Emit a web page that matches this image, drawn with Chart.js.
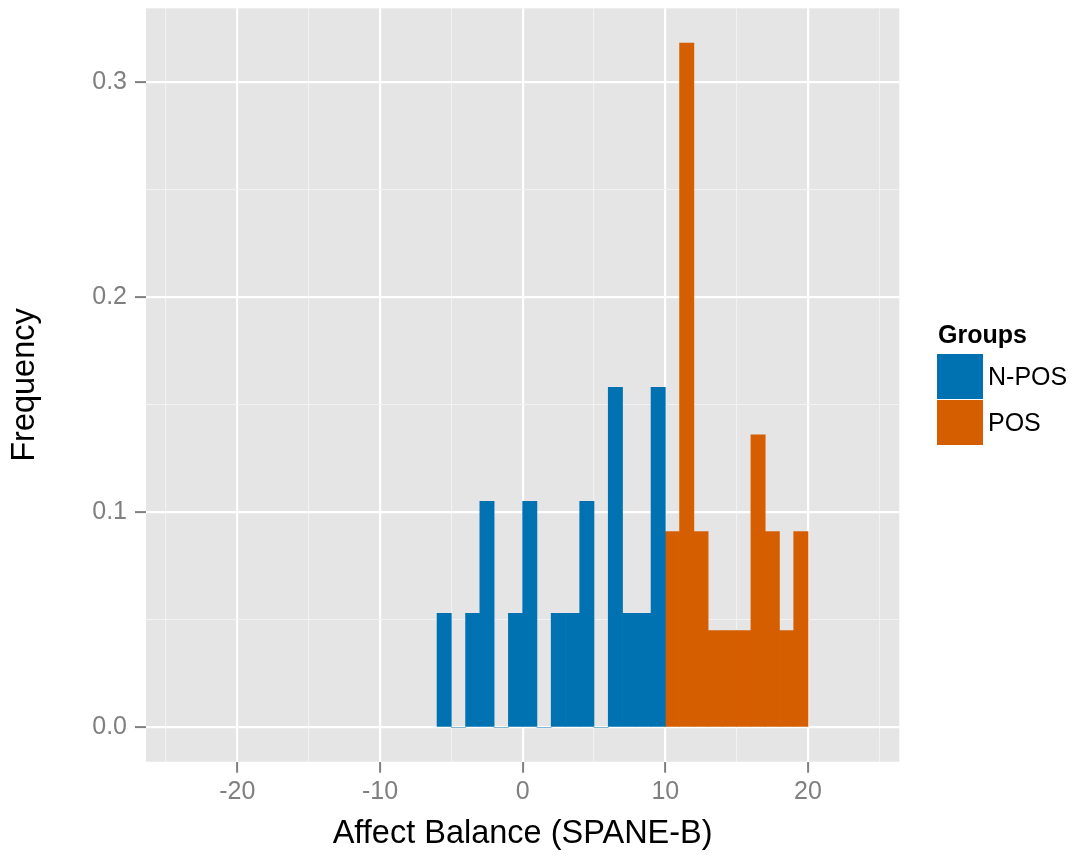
<!DOCTYPE html>
<html>
<head>
<meta charset="utf-8">
<title>Affect Balance histogram</title>
<script src="https://cdn.jsdelivr.net/npm/chart.js@4.4.1/dist/chart.umd.min.js"></script>
<style>
  html, body { margin: 0; padding: 0; background: #ffffff; }
  #c { display: block; }
</style>
</head>
<body>
<canvas id="c" width="1077" height="859"></canvas>
<script>
// bin centres (bin width 1) and relative frequencies
var nposMid = [-5.5, -4.5, -3.5, -2.5, -1.5, -0.5, 0.5, 1.5, 2.5, 3.5, 4.5, 5.5, 6.5, 7.5, 8.5, 9.5];
var nposFreq = [0.053, 0, 0.053, 0.105, 0, 0.053, 0.105, 0, 0.053, 0.053, 0.105, 0, 0.158, 0.053, 0.053, 0.158];
var posMid = [10.5, 11.5, 12.5, 13.5, 14.5, 15.5, 16.5, 17.5, 18.5, 19.5];
var posFreq = [0.091, 0.318, 0.091, 0.045, 0.045, 0.045, 0.136, 0.091, 0.045, 0.091];

var xTicks = [-25, -20, -15, -10, -5, 0, 5, 10, 15, 20, 25];
var yTicks = [0, 0.05, 0.1, 0.15, 0.2, 0.25, 0.3];
var groupNames = ['N-POS', 'POS'];
var groupColors = ['#0072B2', '#D55E00'];

function toPoints(xs, ys) {
  var out = [];
  for (var i in xs) out.push({ x: xs[i], y: ys[i] });
  return out;
}

function isMajorX(v) { return Math.round(v) % 10 === 0; }
function isMajorY(v) { return Math.round(v * 100) % 10 === 0; }

Chart.defaults.font.family = '"Liberation Sans", Arial, sans-serif';

var panelBg = {
  id: 'panelBg',
  beforeDraw: function(chart) {
    var a = chart.chartArea, ctx = chart.ctx;
    ctx.save();
    ctx.fillStyle = '#E5E5E5';
    ctx.fillRect(a.left, a.top, a.right - a.left, a.bottom - a.top);
    ctx.restore();
  }
};

// ggplot-style legend on the right
var sideLegend = {
  id: 'sideLegend',
  afterDraw: function(chart) {
    var ctx = chart.ctx;
    ctx.save();
    ctx.textBaseline = 'alphabetic';
    ctx.textAlign = 'left';
    ctx.fillStyle = '#000000';
    ctx.font = 'bold 25px "Liberation Sans", Arial, sans-serif';
    ctx.fillText('Groups', 938, 343);
    ctx.font = '25px "Liberation Sans", Arial, sans-serif';
    var top = 354;
    for (var i = 0; i < groupNames.length; i++) {
      ctx.fillStyle = groupColors[i];
      ctx.fillRect(937, top + i * 46, 46, 45);
      ctx.fillStyle = '#000000';
      ctx.fillText(groupNames[i], 988, top + i * 46 + 31);
    }
    ctx.restore();
  }
};

var chartdata = {
  datasets: [
    {
      label: groupNames[0],
      data: toPoints(nposMid, nposFreq),
      backgroundColor: groupColors[0],
      borderWidth: 0,
      grouped: false,
      barPercentage: 1,
      categoryPercentage: 1
    },
    {
      label: groupNames[1],
      data: toPoints(posMid, posFreq),
      backgroundColor: groupColors[1],
      borderWidth: 0,
      grouped: false,
      barPercentage: 1,
      categoryPercentage: 1
    }
  ]
};

var ctx = document.getElementById('c');

var histo = new Chart(ctx, {
  type: 'bar',
  data: chartdata,
  plugins: [panelBg, sideLegend],
  options: {
    responsive: false,
    animation: false,
    devicePixelRatio: 1,
    layout: { padding: { top: 8.3, right: 177.7, bottom: 0, left: 0 } },
    plugins: {
      legend: { display: false },
      tooltip: { enabled: false }
    },
    scales: {
      x: {
        type: 'linear',
        min: -26.4,
        max: 26.4,
        offset: false,
        border: { display: false },
        grid: {
          offset: false,
          color: function(c) { return c.tick && isMajorX(c.tick.value) ? '#FFFFFF' : '#F2F2F2'; },
          lineWidth: function(c) { return c.tick && isMajorX(c.tick.value) ? 2.2 : 1.1; },
          tickColor: function(c) { return c.tick && isMajorX(c.tick.value) ? '#7F7F7F' : 'rgba(0,0,0,0)'; },
          tickLength: 11,
          tickWidth: 2
        },
        ticks: {
          autoSkip: false,
          maxRotation: 0,
          padding: 4,
          color: '#7F7F7F',
          font: { size: 25 },
          callback: function(v) { return isMajorX(v) ? String(v) : ''; }
        },
        afterBuildTicks: function(s) {
          s.ticks = xTicks.map(function(v) { return { value: v }; });
        },
        afterFit: function(s) {
          s.height = 97.3;
          s.paddingLeft = 0;
          s.paddingRight = 0;
        },
        title: {
          display: true,
          text: 'Affect Balance (SPANE-B)',
          color: '#000000',
          font: { size: 32.5 },
          padding: { top: 0, bottom: 5 }
        }
      },
      y: {
        type: 'linear',
        min: -0.0159,
        max: 0.3341,
        border: { display: false },
        grid: {
          color: function(c) { return c.tick && isMajorY(c.tick.value) ? '#FFFFFF' : '#F2F2F2'; },
          lineWidth: function(c) { return c.tick && isMajorY(c.tick.value) ? 2.2 : 1.1; },
          tickColor: function(c) { return c.tick && isMajorY(c.tick.value) ? '#7F7F7F' : 'rgba(0,0,0,0)'; },
          tickLength: 11,
          tickWidth: 2
        },
        ticks: {
          autoSkip: false,
          padding: 8,
          color: '#7F7F7F',
          font: { size: 25 },
          callback: function(v) { return isMajorY(v) ? v.toFixed(1) : ''; }
        },
        afterBuildTicks: function(s) {
          s.ticks = yTicks.map(function(v) { return { value: v }; });
        },
        afterFit: function(s) {
          s.width = 146;
          s.paddingTop = 0;
          s.paddingBottom = 0;
        },
        title: {
          display: true,
          text: 'Frequency',
          color: '#000000',
          font: { size: 32.5 },
          padding: { top: 6, bottom: 0 }
        }
      }
    }
  }
});
</script>
</body>
</html>
